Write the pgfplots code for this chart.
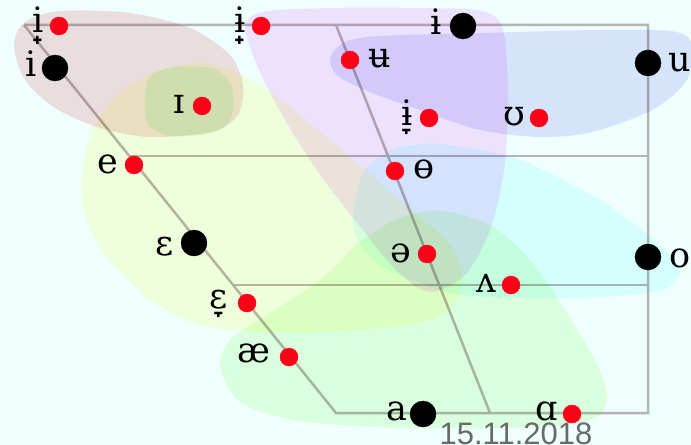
\documentclass[border=0pt]{standalone}
\usepackage{fontspec}
\usepackage{pgfplots}
\pgfplotsset{compat=1.18}
\setmainfont{Liberation Sans}
\newfontfamily\ipa{DejaVu Serif}

\definecolor{bgc}{RGB}{238,255,253}
\definecolor{gridc}{RGB}{180,180,180}
\definecolor{dotred}{RGB}{255,0,24}
\definecolor{datec}{RGB}{105,105,105}
% blob colours (multiplied onto what lies below)
\definecolor{pinkb}{RGB}{250,222,224}
\definecolor{yellowb}{RGB}{255,255,222}
\definecolor{ib}{RGB}{228,255,232}
\definecolor{purpleb}{RGB}{253,226,255}
\definecolor{blueb}{RGB}{229,228,252}
\definecolor{cyanb}{RGB}{229,255,255}
\definecolor{greenb}{RGB}{234,255,224}

\tikzset{lab/.style={font=\ipa\fontsize{35bp}{37bp}\selectfont, anchor=base, inner sep=0pt}}
\pgfplotsset{blob/.style={draw=none, fill=#1, smooth cycle, blend mode=multiply}}

\begin{document}
\begin{tikzpicture}
\begin{axis}[
    width=691bp, height=445bp, scale only axis,
    xmin=0, xmax=691, ymin=0, ymax=445, y dir=reverse,
    axis line style={draw=none}, ticks=none,
    axis background/.style={fill=bgc},
    ]
% vowel trapezoid
\addplot[gridc, line width=2.5bp] coordinates {(24,25) (648,25) (648,413) (336,413) (24,25)};
\addplot[gridc, line width=2.5bp] coordinates {(129,156) (648,156)};
\addplot[gridc, line width=2.5bp] coordinates {(233,285) (648,285)};
\addplot[gridc, line width=2.5bp] coordinates {(336,25) (490,413)};

% vowels
\addplot[only marks, mark=*, mark size=9bp, color=dotred] coordinates {
    (59,26) (261,26) (350,60) (202,106) (429,118) (539,118) (134,165)
    (395,171) (427,254) (511,285) (247,303) (289,357) (572,414)};
\addplot[only marks, mark=*, mark size=13bp, color=black] coordinates {
    (55,68) (463,26) (648,63) (194,243) (648,257) (423,414)};

\node[lab] at (axis cs:38,33) {i̟};
\node[lab] at (axis cs:31,77) {i};
\node[lab] at (axis cs:240,33) {ɨ̟};
\node[lab] at (axis cs:436,35) {ɨ};
\node[lab] at (axis cs:380,68) {ʉ};
\node[lab] at (axis cs:680,72) {u};
\node[lab] at (axis cs:179,113) {ɪ};
\node[lab] at (axis cs:407,125) {ɨ̞};
\node[lab] at (axis cs:514,125) {ʊ};
\node[lab] at (axis cs:108,173) {e};
\node[lab] at (axis cs:424,178) {ɵ};
\node[lab] at (axis cs:165,255) {ɛ};
\node[lab] at (axis cs:401,262) {ə};
\node[lab] at (axis cs:680,267) {o};
\node[lab] at (axis cs:486,292) {ʌ};
\node[lab] at (axis cs:219,308) {ɛ̞};
\node[lab] at (axis cs:254,362) {æ};
\node[lab] at (axis cs:397,420) {a};
\node[lab] at (axis cs:547,420) {ɑ};

% regions
\addplot[blob=pinkb] coordinates {(14,45) (25,22) (60,11) (130,13) (190,28) (230,55)
    (243,85) (238,115) (212,132) (150,137) (100,128) (55,108) (25,80)};
\addplot[blob=yellowb] coordinates {(82,175) (92,130) (120,92) (160,70) (210,64) (265,88)
    (330,140) (400,200) (450,245) (462,285) (435,318) (360,330) (270,332) (200,325)
    (150,300) (105,255) (85,215)};
\addplot[blob=ib] coordinates {(145,100) (150,76) (175,67) (215,69) (232,88) (231,118)
    (212,133) (170,136) (148,124)};
\addplot[blob=purpleb] coordinates {(245,28) (262,12) (330,8) (420,8) (482,11) (503,30)
    (508,100) (504,170) (490,230) (465,275) (430,292) (398,272) (358,224) (318,172)
    (285,120) (260,72)};
\addplot[blob=blueb] coordinates {(330,58) (345,42) (380,36) (480,33) (600,30) (670,31)
    (691,42) (687,80) (652,110) (592,132) (540,137) (480,130) (420,110) (370,92) (338,76)};
\addplot[blob=cyanb] coordinates {(353,213) (365,170) (400,147) (450,145) (520,160)
    (600,200) (660,245) (680,272) (662,290) (600,297) (500,298) (440,290) (382,266) (358,240)};
\addplot[blob=greenb] coordinates {(220,365) (232,338) (270,313) (320,280) (360,242)
    (400,218) (440,211) (490,225) (530,260) (565,310) (595,360) (607,395) (598,416)
    (560,426) (480,428) (400,428) (300,421) (240,402)};

\node[font=\fontsize{31bp}{33bp}\selectfont, text=datec, anchor=base, inner sep=0pt]
    at (axis cs:516,444) {15.11.2018};
\end{axis}
\pgfresetboundingbox
\useasboundingbox (current axis.south west) rectangle (current axis.north east);
\end{tikzpicture}
\end{document}
